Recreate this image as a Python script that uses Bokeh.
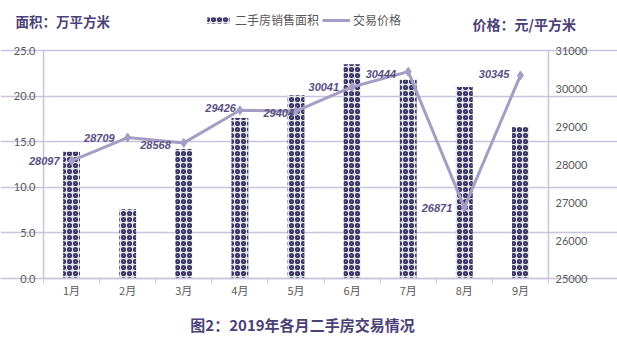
from bokeh.plotting import figure
from bokeh.models import (Range1d, LinearAxis, FixedTicker, Label, Legend, LegendItem,
                          ColumnDataSource, LabelSet, NumeralTickFormatter)
from bokeh.core.properties import value
from bokeh.embed import file_html
from bokeh.resources import INLINE

months = ["1月", "2月", "3月", "4月", "5月", "6月", "7月", "8月", "9月"]
area = [13.9, 7.6, 14.2, 17.6, 20.1, 23.5, 21.8, 21.0, 16.6]
price = [28097, 28709, 28568, 29426, 29404, 30041, 30444, 26871, 30345]
left_ticks = [0, 5, 10, 15, 20, 25]
right_ticks = [25000, 26000, 27000, 28000, 29000, 30000, 31000]

# label offsets (style)
lab_dx = [-12, -13, -13, -4, -2, -13, -12, -12, -11]
lab_dy = [0, 0, -2, 2, -2, 0, -2, -1, 1]

CJK = "Noto Sans CJK SC"
NUM = "Lato"
PURPLE = "#4b4176"
LINE = "#a59dc4"
GRID = "#c9c3dc"
GRAY = "#595959"

# layout (canvas pixels) of the plotting box
W, H = 617, 353
BOX_L, BOX_R, BOX_T, BOX_B = 43, 548, 50, 278

n = len(months)
x = list(range(1, n + 1))
ax_lo, ax_hi = left_ticks[0], left_ticks[-1]
pr_lo, pr_hi = right_ticks[0], right_ticks[-1]

px_per_x = (BOX_R - BOX_L) / n
x0 = 0.5 - BOX_L / px_per_x
x1 = 0.5 + (W - BOX_L) / px_per_x
px_per_y = (BOX_B - BOX_T) / (ax_hi - ax_lo)
y0 = ax_lo - (H - BOX_B) / px_per_y
y1 = ax_lo + BOX_B / px_per_y
k = (pr_hi - pr_lo) / (ax_hi - ax_lo)

src = ColumnDataSource(dict(x=x, area=area, price=price,
                            lab=[str(v) for v in price], dx=lab_dx, dy=lab_dy))

p = figure(width=W, height=H, output_backend="svg", toolbar_location=None,
           x_range=Range1d(x0, x1), y_range=Range1d(y0, y1),
           min_border=0, outline_line_color=None)
p.extra_y_ranges = {"price": Range1d(pr_lo + (y0 - ax_lo) * k, pr_lo + (y1 - ax_lo) * k)}

p.ygrid[0].ticker = FixedTicker(ticks=left_ticks)
p.ygrid.grid_line_color = GRID
p.ygrid.grid_line_width = 1.5
p.ygrid.bounds = (0.5, n + 0.5)
p.xgrid.grid_line_color = None

bars = p.vbar(x="x", top="area", width=0.3, source=src,
              fill_color="#dfe6e3", line_color=None,
              hatch_pattern="ring", hatch_color="#3d3568", hatch_scale=6, hatch_weight=2.2)
ln = p.line("x", "price", source=src, y_range_name="price", line_color=LINE, line_width=3)
mk = p.scatter("x", "price", source=src, y_range_name="price", marker="diamond",
               size=9, fill_color=LINE, line_color=LINE)

labels = LabelSet(x="x", y="price", text="lab", source=src, y_range_name="price",
                  x_offset="dx", y_offset="dy", text_align="right", text_baseline="middle",
                  text_font=value("Liberation Sans"), text_font_style="bold italic",
                  text_font_size="11px", text_color="#5a4f82")
p.add_layout(labels)

# x axis
xa = p.xaxis[0]
xa.fixed_location = ax_lo
xa.bounds = (0.5, n + 0.5)
xa.ticker = FixedTicker(ticks=x, minor_ticks=[v + 0.5 for v in [0] + x])
xa.major_label_overrides = {i: m for i, m in zip(x, months)}
xa.major_tick_out = 0
xa.major_tick_in = 0
xa.minor_tick_out = 5
xa.minor_tick_in = 0
xa.axis_line_color = GRID
xa.axis_line_width = 1.5
xa.minor_tick_line_color = GRID
xa.major_label_text_font = CJK
xa.major_label_text_font_size = "11px"
xa.major_label_text_color = GRAY
xa.major_label_standoff = -2

ya = p.yaxis[0]
ya.fixed_location = 0.5
ya.bounds = (ax_lo, ax_hi)
ya.ticker = FixedTicker(ticks=left_ticks)
ya.formatter = NumeralTickFormatter(format="0.0")
ya.major_tick_out = 0
ya.major_tick_in = 0
ya.minor_tick_out = 0
ya.minor_tick_in = 0
ya.axis_line_color = GRID
ya.axis_line_width = 1.5
ya.major_label_text_font = NUM
ya.major_label_text_font_size = "11px"
ya.major_label_text_color = GRAY
ya.major_label_standoff = 8

ra = LinearAxis(y_range_name="price", ticker=FixedTicker(ticks=right_ticks))
ra.fixed_location = n + 0.5
ra.bounds = (pr_lo, pr_hi)
ra.major_tick_out = 0
ra.major_tick_in = 0
ra.minor_tick_out = 0
ra.minor_tick_in = 0
ra.axis_line_color = GRID
ra.axis_line_width = 1.5
ra.major_label_text_font = NUM
ra.major_label_text_font_size = "11px"
ra.major_label_text_color = GRAY
ra.major_label_standoff = 7
p.add_layout(ra, "right")

legend = Legend(items=[LegendItem(label="二手房销售面积", renderers=[bars]),
                       LegendItem(label="交易价格", renderers=[ln, mk])],
                location=(204, H - 28), orientation="horizontal",
                label_text_font=CJK, label_text_font_size="12px", label_text_color=GRAY,
                glyph_width=28, glyph_height=8, spacing=3, padding=0, margin=0,
                label_standoff=3, border_line_color=None, background_fill_alpha=0)
p.add_layout(legend)

p.add_layout(Label(x=15, y=H - 20, x_units="screen", y_units="screen",
                   text="面积：万平方米", text_font=CJK, text_font_style="bold",
                   text_baseline="middle", text_font_size="13.5px", text_color=PURPLE))
p.add_layout(Label(x=472, y=H - 23, x_units="screen", y_units="screen",
                   text="价格：元/平方米", text_font=CJK, text_font_style="bold",
                   text_baseline="middle", text_font_size="14px", text_color=PURPLE))
p.add_layout(Label(x=302, y=H - 324, x_units="screen", y_units="screen",
                   text="图2：2019年各月二手房交易情况", text_align="center", text_font=CJK,
                   text_baseline="middle", text_font_style="bold", text_font_size="15px",
                   text_color=PURPLE))

open("out.html", "w").write(file_html(p, INLINE))
